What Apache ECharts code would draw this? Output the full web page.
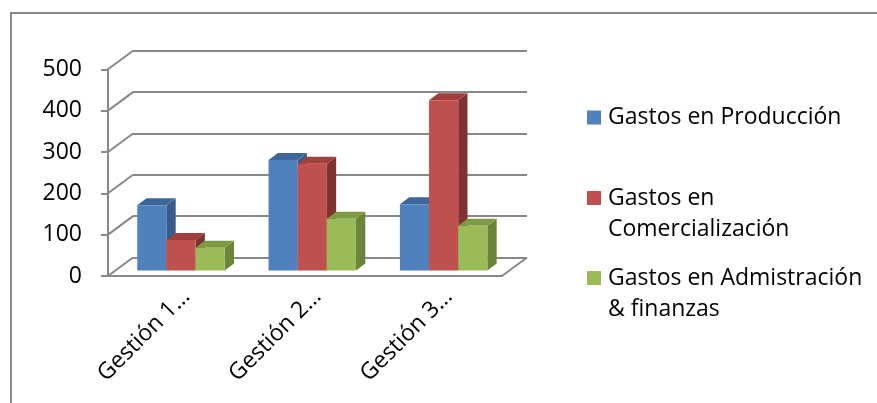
<!DOCTYPE html>
<html>
<head>
<meta charset="utf-8">
<script src="https://cdn.jsdelivr.net/npm/echarts@6/dist/echarts.min.js"></script>
<style>
html,body{margin:0;padding:0;background:#fff;}
#chart{width:877px;height:403px;}
</style>
</head>
<body>
<div id="chart"></div>
<script>
// ---- data ----
const CATEGORIES = ['Gestión 1…', 'Gestión 2…', 'Gestión 3…'];
const SERIES_NAMES = ['Gastos en Producción', 'Gastos en Comercialización', 'Gastos en Admistración & finanzas'];
const PRODUCCION = [158, 267, 160];
const COMERCIALIZACION = [74, 258, 412];
const ADMINISTRACION = [55, 125, 108];
const Y_TICKS = [0, 100, 200, 300, 400, 500];
const LEGEND_LABELS = ['Gastos en Producción', '\nGastos en\nComercialización', '\nGastos en Admistración\n& finanzas'];

// ---- layout / style ----
const W = 877, H = 403;
const FONT = 'Open Sans';
const FS = 23;
const GRAY = '#888888';
const FRONT = {l: 108, r: 502, t: 69.3, b: 276};
const WALL = {dx: 25, dy: -18.5};      // back wall offset
const BARPLANE = {dx: 7.3, dy: -5.5};   // plane of the bars
const LABELS = {dx: 12.5, dy: 0};
const BAR_DEPTH = {dx: 9.3, dy: -7};
const BAR_RATIO = 0.222;
const FACE = [
  {front: '#4F81BD', top: '#3E6799', side: '#385D8A'},
  {front: '#C0504D', top: '#A03F3C', side: '#7F3331'},
  {front: '#9BBB59', top: '#7E9A45', side: '#6A8438'}
];
const VALUES = [PRODUCCION, COMERCIALIZACION, ADMINISTRACION];

function gridAt(off) {
  return {
    left: FRONT.l + off.dx,
    right: W - (FRONT.r + off.dx),
    top: FRONT.t + off.dy,
    bottom: H - (FRONT.b + off.dy),
    containLabel: false
  };
}

const chart = echarts.init(document.getElementById('chart'), null, {renderer: 'canvas'});

function barRender(sIdx) {
  return function (params, api) {
    const c = api.value(0), v = api.value(1);
    const topP = api.coord([c, v]);
    const baseP = api.coord([c, 0]);
    const band = api.size([1, 0])[0];
    const bw = band * BAR_RATIO;
    const x0 = topP[0] - bw * 1.5 + sIdx * bw;
    const x1 = x0 + bw;
    const yt = topP[1], yb = baseP[1];
    const d = BAR_DEPTH;
    const f = FACE[sIdx];
    return {
      type: 'group',
      children: [
        {type: 'polygon', shape: {points: [[x1, yt], [x1 + d.dx, yt + d.dy], [x1 + d.dx, yb + d.dy], [x1, yb]]}, style: {fill: f.side}},
        {type: 'polygon', shape: {points: [[x0, yt], [x1, yt], [x1 + d.dx, yt + d.dy], [x0 + d.dx, yt + d.dy]]}, style: {fill: f.top}},
        {type: 'rect', shape: {x: x0, y: yt, width: bw, height: yb - yt}, style: {fill: f.front}}
      ]
    };
  };
}

const barSeries = SERIES_NAMES.map((name, i) => ({
  name: name,
  type: 'custom',
  coordinateSystem: 'cartesian2d',
  xAxisIndex: 2,
  yAxisIndex: 2,
  itemStyle: {color: FACE[i].front},
  renderItem: barRender(i),
  data: VALUES[i].map((v, k) => [k, v]),
  z: 5
}));

const diagSeries = {
  type: 'custom',
  coordinateSystem: 'cartesian2d',
  xAxisIndex: 1,
  yAxisIndex: 1,
  silent: true,
  renderItem: function (params, api) {
    const p = api.coord([api.value(0), api.value(1)]);
    return {
      type: 'line',
      shape: {x1: p[0], y1: p[1], x2: p[0] - WALL.dx, y2: p[1] - WALL.dy},
      style: {stroke: GRAY, lineWidth: 2}
    };
  },
  data: Y_TICKS.map(v => [0, v]).concat([[CATEGORIES.length, 0]]),
  z: 1
};

const legendTops = [102, 151.5, 231.5];
const legends = SERIES_NAMES.map((name, i) => ({
  data: [name],
  orient: 'vertical',
  left: 587,
  top: legendTops[i],
  padding: 0,
  itemWidth: 14,
  itemHeight: 14,
  icon: 'rect',
  selectedMode: false,
  formatter: () => LEGEND_LABELS[i],
  textStyle: {fontFamily: FONT, fontSize: FS, color: '#000', lineHeight: 31, padding: [0, 0, 0, 2]}
}));

const axisLineStyle = {color: GRAY, width: 2};

chart.setOption({
  animation: false,
  backgroundColor: '#fff',
  textStyle: {fontFamily: FONT},
  legend: legends,
  grid: [gridAt({dx: 0, dy: 0}), gridAt(WALL), gridAt(BARPLANE), gridAt(LABELS)],
  xAxis: [
    {type: 'category', gridIndex: 0, data: CATEGORIES,
     axisLine: {lineStyle: axisLineStyle}, axisTick: {length: 8, lineStyle: axisLineStyle},
     axisLabel: {show: false}, splitLine: {show: false}},
    {type: 'value', gridIndex: 1, min: 0, max: CATEGORIES.length, show: false},
    {type: 'category', gridIndex: 2, data: CATEGORIES, show: false},
    {type: 'category', gridIndex: 3, data: CATEGORIES,
     axisLine: {show: false}, axisTick: {show: false},
     axisLabel: {rotate: 45, interval: 0, margin: 17, fontSize: FS, color: '#000', fontFamily: FONT}}
  ],
  yAxis: [
    {type: 'value', gridIndex: 0, min: 0, max: 500, interval: 100,
     axisLine: {show: true, lineStyle: axisLineStyle},
     axisTick: {show: true, length: 7, lineStyle: axisLineStyle},
     axisLabel: {margin: 26, fontSize: FS, color: '#000', fontFamily: FONT},
     splitLine: {show: false}},
    {type: 'value', gridIndex: 1, min: 0, max: 500, interval: 100,
     axisLine: {show: false}, axisTick: {show: false}, axisLabel: {show: false},
     splitLine: {show: true, lineStyle: {color: GRAY, width: 2}}},
    {type: 'value', gridIndex: 2, min: 0, max: 500, interval: 100, show: false},
    {type: 'value', gridIndex: 3, min: 0, max: 500, interval: 100, show: false}
  ],
  graphic: [{
    type: 'rect', silent: true,
    shape: {x: 11, y: 13, width: 1000, height: 600},
    style: {fill: null, stroke: GRAY, lineWidth: 2}
  }],
  series: [diagSeries].concat(barSeries)
});
</script>
</body>
</html>
